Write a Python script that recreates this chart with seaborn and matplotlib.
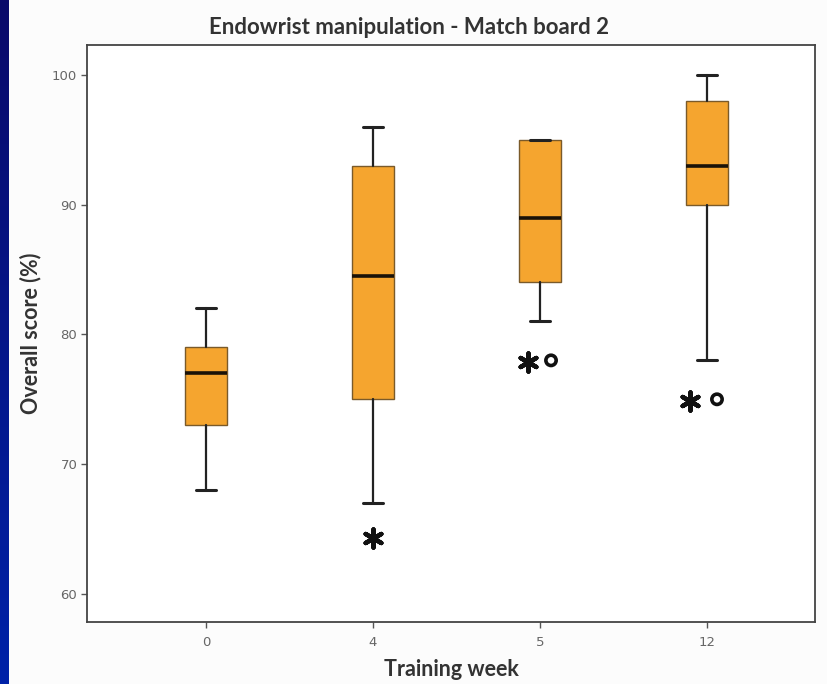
import numpy as np
import matplotlib
matplotlib.use("Agg")
import matplotlib.pyplot as plt
import seaborn as sns

# ---- data ----
weeks = ["0", "4", "5", "12"]
whisker_low = [68, 67, 81, 78]
q1 = [73, 75, 84, 90]
median = [77, 84.5, 89, 93]
q3 = [79, 93, 95, 98]
whisker_high = [82, 96, 95, 100]
extreme_week = ["4", "5", "12"]        # asterisk markers
extreme_value = [64.3, 77.9, 74.9]
outlier_week = ["5", "12"]             # circle markers
outlier_value = [78.0, 75.0]

sns.set_theme(style="white")
plt.rcParams["font.family"] = ["Lato", "DejaVu Sans"]

fig = plt.figure(figsize=(8.27, 6.84), dpi=100)
fig.patch.set_facecolor("#fcfcfc")

# blue strip on the left edge
strip = fig.add_axes([0, 0, 9 / 827, 1])
grad = np.linspace(0, 1, 256).reshape(-1, 1)
cmap = matplotlib.colors.LinearSegmentedColormap.from_list("b", ["#0a0a6a", "#0022a8"])
strip.imshow(grad, aspect="auto", cmap=cmap, origin="upper")
strip.set_axis_off()

ax = fig.add_axes([87 / 827, 62 / 684, (815 - 87) / 827, (622 - 45) / 684])
ax.set_facecolor("white")

stats = []
for i, w in enumerate(weeks):
    stats.append(dict(label=w, whislo=whisker_low[i], q1=q1[i], med=median[i],
                      q3=q3[i], whishi=whisker_high[i], fliers=[]))
pos = np.arange(len(weeks))
ax.bxp(stats, positions=pos, widths=0.25, patch_artist=True, showfliers=False,
       boxprops=dict(facecolor="#f5a52f", edgecolor="#7a5a2a", linewidth=1.0),
       medianprops=dict(color="#1a1208", linewidth=2.6),
       whiskerprops=dict(color="#222222", linewidth=1.6),
       capprops=dict(color="#222222", linewidth=2.2),
       capwidths=0.12)

idx = {w: i for i, w in enumerate(weeks)}
ext_off = {"4": 0.0, "5": -0.07, "12": -0.1}
out_off = {"5": 0.066, "12": 0.06}
ex = [idx[w] + ext_off[w] for w in extreme_week]
ax.scatter(ex, extreme_value, marker=(6, 2, 0), s=170, color="#111111",
           linewidths=3.2, zorder=5)
ox = [idx[w] + out_off[w] for w in outlier_week]
ax.scatter(ox, outlier_value, marker="o", s=55, facecolors="none",
           edgecolors="#111111", linewidths=2.6, zorder=5)

ax.set_xlim(-0.713, 3.647)
ax.set_ylim(57.84, 102.3)
ax.set_xticks(pos)
ax.set_xticklabels(weeks)
ax.set_yticks([60, 70, 80, 90, 100])
ax.tick_params(axis="both", which="both", direction="out", length=4, width=1,
               color="#555555", labelsize=9.5, labelcolor="#666666", pad=3,
               bottom=True, left=True)
ax.tick_params(axis="x", pad=6)
for lbl in ax.get_xticklabels() + ax.get_yticklabels():
    lbl.set_family("DejaVu Sans")
for s in ax.spines.values():
    s.set_color("#444444")
    s.set_linewidth(1.3)

ax.set_xlabel("Training week", fontsize=15.5, fontweight="bold", color="#333333", labelpad=7)
ax.set_ylabel("Overall score (%)", fontsize=15.5, fontweight="bold", color="#333333", labelpad=8)
fig.text(0.495, 1 - 27 / 684, "Endowrist manipulation - Match board 2",
         ha="center", va="center", fontsize=16, fontweight="bold", color="#333333")

fig.savefig("out.png", dpi=100, facecolor=fig.get_facecolor())
